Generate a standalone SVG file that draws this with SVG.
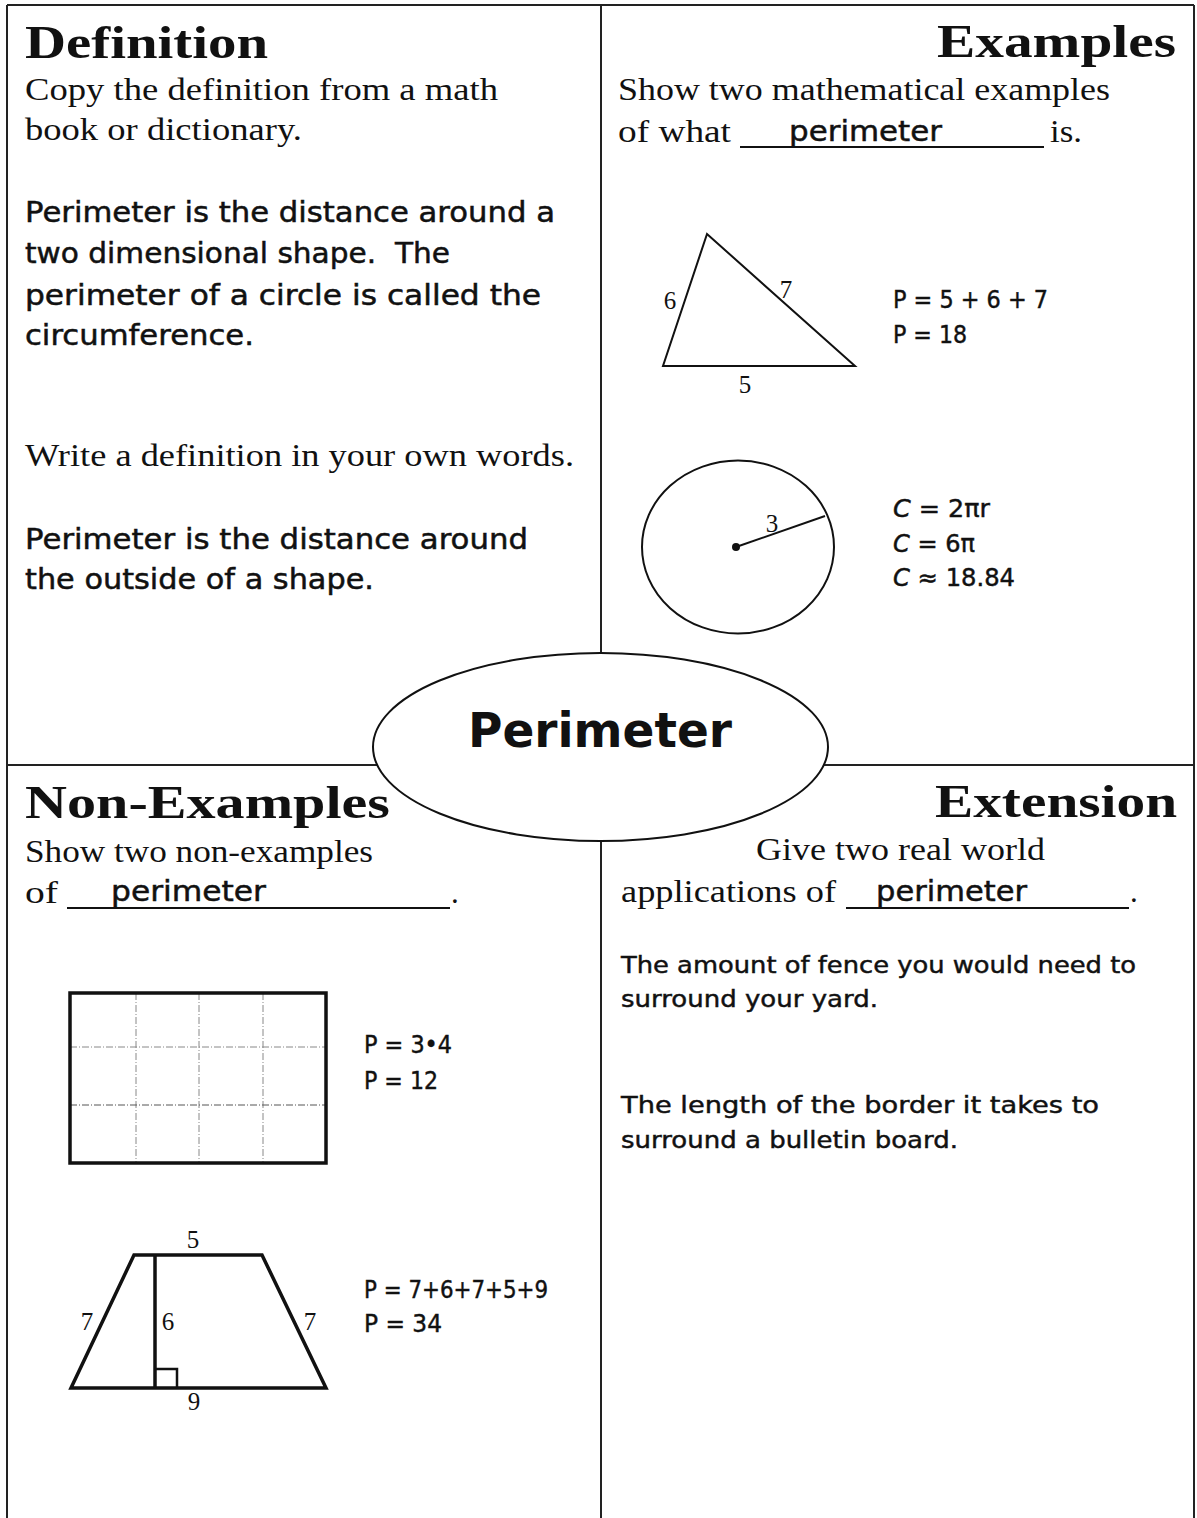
<svg xmlns="http://www.w3.org/2000/svg" width="1197" height="1518" viewBox="0 0 1197 1518">
<style>
.hd{font-family:"Liberation Serif",serif;font-weight:bold;font-size:46px;fill:#111}
.sr{font-family:"Liberation Serif",serif;font-size:31px;fill:#111}
.cm{font-family:"DejaVu Sans",sans-serif;font-size:28px;fill:#111;stroke:#111;stroke-width:0.5}
.cs{font-family:"DejaVu Sans",sans-serif;font-size:23px;fill:#111;stroke:#111;stroke-width:0.45}
.fm{font-family:"DejaVu Sans",sans-serif;font-size:24px;fill:#111;stroke:#111;stroke-width:0.45}
.lb{font-family:"Liberation Serif",serif;font-size:25px;fill:#111}
.ttl{font-family:"DejaVu Sans",sans-serif;font-weight:bold;font-size:48px;fill:#111}
.frame{stroke:#222;stroke-width:2;fill:none}
.shape{stroke:#111;stroke-width:2;fill:none}
.thick{stroke:#111;stroke-width:3.5;fill:none}
.grid{stroke:#888;stroke-width:1;stroke-dasharray:7 2 1 2;fill:none}
.ul{stroke:#111;stroke-width:2}
</style>
<rect width="1197" height="1518" fill="#fff"/>
<g id="connectors">
  <line class="frame" x1="7" y1="5" x2="1194" y2="5"/>
  <line class="frame" x1="7" y1="5" x2="7" y2="1518"/>
  <line class="frame" x1="1194" y1="5" x2="1194" y2="1518"/>
  <line class="frame" x1="601" y1="5" x2="601" y2="1518"/>
  <line class="frame" x1="7" y1="765" x2="1194" y2="765"/>
</g>
<g id="definition">
  <text class="hd" x="25" y="58" textLength="243" lengthAdjust="spacingAndGlyphs">Definition</text>
  <text class="sr" x="25" y="100" textLength="473" lengthAdjust="spacingAndGlyphs">Copy the definition from a math</text>
  <text class="sr" x="25" y="140" textLength="277" lengthAdjust="spacingAndGlyphs">book or dictionary.</text>
  <text class="cm" x="25" y="222" textLength="530" lengthAdjust="spacingAndGlyphs">Perimeter is the distance around a</text>
  <text class="cm" x="25" y="263" textLength="425" lengthAdjust="spacingAndGlyphs">two dimensional shape.&#160; The</text>
  <text class="cm" x="25" y="305" textLength="516" lengthAdjust="spacingAndGlyphs">perimeter of a circle is called the</text>
  <text class="cm" x="25" y="345" textLength="229" lengthAdjust="spacingAndGlyphs">circumference.</text>
  <text class="sr" x="25" y="466" textLength="549" lengthAdjust="spacingAndGlyphs">Write a definition in your own words.</text>
  <text class="cm" x="25" y="549" textLength="503" lengthAdjust="spacingAndGlyphs">Perimeter is the distance around</text>
  <text class="cm" x="25" y="589" textLength="349" lengthAdjust="spacingAndGlyphs">the outside of a shape.</text>
</g>
<g id="examples">
  <text class="hd" x="937" y="57" textLength="239" lengthAdjust="spacingAndGlyphs">Examples</text>
  <text class="sr" x="618" y="100" textLength="492" lengthAdjust="spacingAndGlyphs">Show two mathematical examples</text>
  <text class="sr" x="618" y="142" textLength="113" lengthAdjust="spacingAndGlyphs">of what</text>
  <line class="ul" x1="740" y1="147" x2="1044" y2="147"/>
  <text class="cm" x="789" y="141" textLength="153" lengthAdjust="spacingAndGlyphs">perimeter</text>
  <text class="sr" x="1050" y="142" textLength="32" lengthAdjust="spacingAndGlyphs">is.</text>
  <g id="triangle">
    <polygon class="shape" points="707,234 663,366 855,366"/>
    <text class="lb" x="670" y="309" text-anchor="middle">6</text>
    <text class="lb" x="786" y="298" text-anchor="middle">7</text>
    <text class="lb" x="745" y="393" text-anchor="middle">5</text>
    <text class="fm" x="893" y="308" textLength="155" lengthAdjust="spacingAndGlyphs">P = 5 + 6 + 7</text>
    <text class="fm" x="893" y="343" textLength="74" lengthAdjust="spacingAndGlyphs">P = 18</text>
  </g>
  <g id="circle">
    <ellipse class="shape" cx="738" cy="547" rx="96" ry="86.5"/>
    <circle cx="736" cy="547" r="4" fill="#111"/>
    <line class="shape" x1="736" y1="547" x2="825" y2="516"/>
    <text class="lb" x="772" y="532" text-anchor="middle">3</text>
    <text class="fm" x="893" y="517" textLength="97" lengthAdjust="spacingAndGlyphs"><tspan font-style="italic">C</tspan> = 2πr</text>
    <text class="fm" x="893" y="552" textLength="82" lengthAdjust="spacingAndGlyphs"><tspan font-style="italic">C</tspan> = 6π</text>
    <text class="fm" x="893" y="586" textLength="122" lengthAdjust="spacingAndGlyphs"><tspan font-style="italic">C</tspan> ≈ 18.84</text>
  </g>
</g>
<g id="non-examples">
  <text class="hd" x="25" y="818" textLength="365" lengthAdjust="spacingAndGlyphs">Non-Examples</text>
  <text class="sr" x="25" y="862" textLength="348" lengthAdjust="spacingAndGlyphs">Show two non-examples</text>
  <text class="sr" x="25" y="903" textLength="33" lengthAdjust="spacingAndGlyphs">of</text>
  <line class="ul" x1="67" y1="908" x2="450" y2="908"/>
  <text class="cm" x="111" y="901" textLength="155" lengthAdjust="spacingAndGlyphs">perimeter</text>
  <text class="sr" x="451" y="903">.</text>
  <g id="rectangle">
    <line class="grid" x1="136" y1="993" x2="136" y2="1163"/>
    <line class="grid" x1="199" y1="993" x2="199" y2="1163"/>
    <line class="grid" x1="263" y1="993" x2="263" y2="1163"/>
    <line class="grid" x1="70" y1="1047" x2="326" y2="1047"/>
    <line class="grid" x1="70" y1="1105" x2="326" y2="1105" style="stroke:#555"/>
    <rect class="thick" x="70" y="993" width="256" height="170"/>
    <text class="fm" x="364" y="1053" textLength="88" lengthAdjust="spacingAndGlyphs">P = 3•4</text>
    <text class="fm" x="364" y="1089" textLength="74" lengthAdjust="spacingAndGlyphs">P = 12</text>
  </g>
  <g id="trapezoid">
    <polygon class="thick" points="134,1255 262,1255 326,1388 71,1388"/>
    <line class="thick" x1="155" y1="1255" x2="155" y2="1388"/>
    <polyline class="shape" points="155,1369 177,1369 177,1388" style="stroke-width:2.5"/>
    <text class="lb" x="193" y="1248" text-anchor="middle">5</text>
    <text class="lb" x="87" y="1330" text-anchor="middle">7</text>
    <text class="lb" x="168" y="1330" text-anchor="middle">6</text>
    <text class="lb" x="310" y="1330" text-anchor="middle">7</text>
    <text class="lb" x="194" y="1410" text-anchor="middle">9</text>
    <text class="fm" x="364" y="1298" textLength="184" lengthAdjust="spacingAndGlyphs">P = 7+6+7+5+9</text>
    <text class="fm" x="364" y="1332" textLength="78" lengthAdjust="spacingAndGlyphs">P = 34</text>
  </g>
</g>
<g id="extension">
  <text class="hd" x="935" y="817" textLength="242" lengthAdjust="spacingAndGlyphs">Extension</text>
  <text class="sr" x="756" y="860" textLength="289" lengthAdjust="spacingAndGlyphs">Give two real world</text>
  <text class="sr" x="621" y="902" textLength="215" lengthAdjust="spacingAndGlyphs">applications of</text>
  <line class="ul" x1="846" y1="908" x2="1129" y2="908"/>
  <text class="cm" x="876" y="901" textLength="151" lengthAdjust="spacingAndGlyphs">perimeter</text>
  <text class="sr" x="1130" y="902">.</text>
  <text class="cs" x="621" y="973" textLength="515" lengthAdjust="spacingAndGlyphs">The amount of fence you would need to</text>
  <text class="cs" x="621" y="1007" textLength="257" lengthAdjust="spacingAndGlyphs">surround your yard.</text>
  <text class="cs" x="621" y="1113" textLength="478" lengthAdjust="spacingAndGlyphs">The length of the border it takes to</text>
  <text class="cs" x="621" y="1148" textLength="337" lengthAdjust="spacingAndGlyphs">surround a bulletin board.</text>
</g>
<g id="center">
  <ellipse cx="600.5" cy="747" rx="227.5" ry="94" fill="#fff" stroke="#111" stroke-width="2"/>
  <text class="ttl" x="468" y="747" textLength="264" lengthAdjust="spacingAndGlyphs">Perimeter</text>
</g>
</svg>
